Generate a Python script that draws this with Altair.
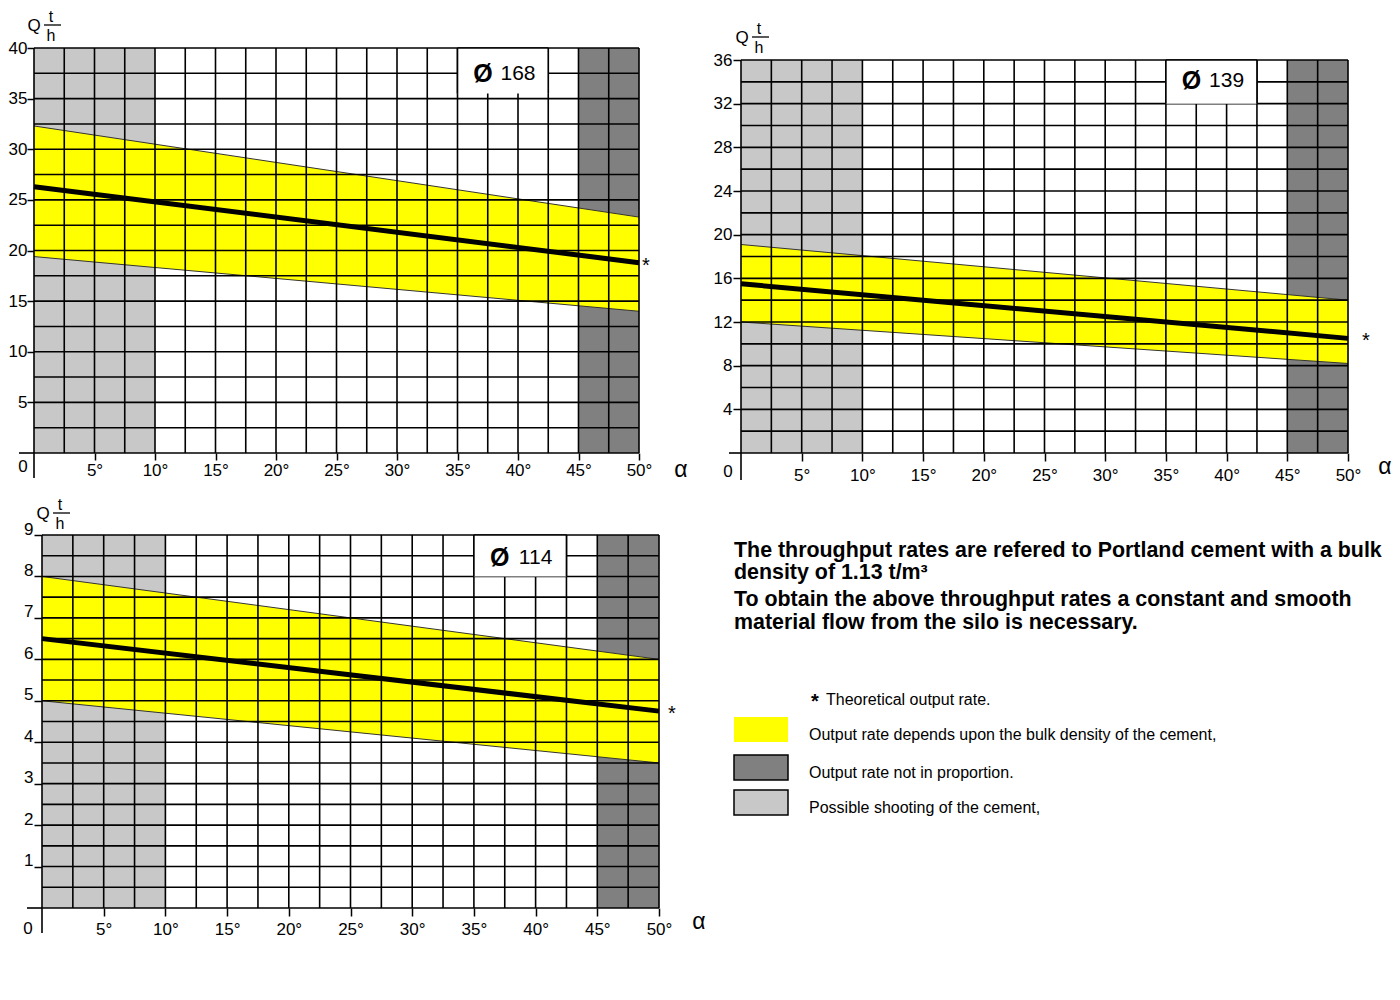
import altair as alt
import numpy as np
import pandas as pd

FONT = "Liberation Sans, Arial, sans-serif"

# ---------------- data ----------------
ALPHA = [0, 50]                      # inclination angle (deg) at the two ends
X_TICKS = [5, 10, 15, 20, 25, 30, 35, 40, 45, 50]
ZONE_START = [0, 45]
ZONE_END = [10, 50]
ZONE_COLORS = ["#c8c8c8", "#808080"]

# Ø 168
P1_UPPER = [32.3, 23.3]
P1_LOWER = [19.4, 14.0]
P1_THEO = [26.3, 18.8]
# Ø 139
P2_UPPER = [19.1, 14.0]
P2_LOWER = [12.0, 8.2]
P2_THEO = [15.5, 10.5]
# Ø 114
P3_UPPER = [8.0, 6.0]
P3_LOWER = [5.0, 3.5]
P3_THEO = [6.5, 4.75]

NOTE_LINES = [
    "The throughput rates are refered to Portland cement with a bulk",
    "density of 1.13 t/m\u00b3",
    "To obtain the above throughput rates a constant and smooth",
    "material flow from the silo is necessary.",
]
LEGEND_LABELS = [
    "Theoretical output rate.",
    "Output rate depends upon the bulk density of the cement,",
    "Output rate not in proportion.",
    "Possible shooting of the cement,",
]
LEGEND_COLORS = ["#ffff00", "#808080", "#c8c8c8"]


def one(**kw):
    return pd.DataFrame({k: [v] for k, v in kw.items()})


def panel(name, upper, lower, theo, ymax, ystep, ytick, box_bottom, label_y,
          width, height, top_gap, left_gap, tick, star_dx, xpad, ypad,
          yoff, zero_d, alpha_d, ext_down, ext_left, q_off):
    ydom = ymax * height / (height - top_gap)
    xmin = -left_gap * 50.0 / (width - left_gap)
    xs = alt.Scale(domain=[xmin, 50], nice=False, zero=False)
    ys = alt.Scale(domain=[0, ydom], nice=False, zero=False)

    xaxis = alt.Axis(values=X_TICKS, labelExpr="datum.value + '\u00b0'",
                     domain=False, grid=False, tickSize=tick, tickWidth=1.5,
                     tickColor="black", labelFont=FONT, labelFontSize=17,
                     labelColor="black", labelPadding=xpad, labelAngle=0,
                     labelFlush=False, labelOverlap=False)
    yaxis = alt.Axis(values=[float(v) for v in np.arange(ytick, ymax + 0.001, ytick)],
                     domain=False, grid=False, tickSize=tick, tickWidth=1.5,
                     tickColor="black", labelFont=FONT, labelFontSize=17,
                     labelColor="black", labelPadding=ypad, labelBaseline="middle",
                     labelOffset=yoff, offset=-left_gap, labelFlush=False,
                     labelOverlap=False, format="d")

    def X(f):
        return alt.X(f, scale=xs, axis=xaxis, title=None)

    def Y(f):
        return alt.Y(f, scale=ys, axis=yaxis, title=None)

    zones = pd.DataFrame({"a0": ZONE_START, "a1": ZONE_END, "c": ZONE_COLORS,
                          "q0": [0, 0], "q1": [ymax, ymax]})
    zl = alt.Chart(zones).mark_rect().encode(
        x=X("a0:Q"), x2="a1:Q", y=Y("q0:Q"), y2="q1:Q",
        color=alt.Color("c:N", scale=None))

    band = pd.DataFrame({"a": ALPHA, "up": upper, "lo": lower, "th": theo})
    area = alt.Chart(band).mark_area(color="#ffff00", opacity=1).encode(
        x=X("a:Q"), y=Y("up:Q"), y2="lo:Q")
    edge_u = alt.Chart(band).mark_line(color="#333333", strokeWidth=1).encode(
        x=X("a:Q"), y=Y("up:Q"))
    edge_l = alt.Chart(band).mark_line(color="#333333", strokeWidth=1).encode(
        x=X("a:Q"), y=Y("lo:Q"))

    xg = np.arange(0, 50.001, 2.5)
    yg = np.arange(0, ymax + 0.001, ystep)
    vgrid = pd.DataFrame({"a": xg, "q0": 0.0, "q1": float(ymax)})
    hgrid = pd.DataFrame({"q": yg, "a0": 0.0, "a1": 50.0})
    vl = alt.Chart(vgrid).mark_rule(color="black", strokeWidth=1.6).encode(
        x=X("a:Q"), y=Y("q0:Q"), y2="q1:Q")
    hl = alt.Chart(hgrid).mark_rule(color="black", strokeWidth=1.6).encode(
        y=Y("q:Q"), x=X("a0:Q"), x2="a1:Q")

    theo_l = alt.Chart(band).mark_line(color="black", strokeWidth=5).encode(
        x=X("a:Q"), y=Y("th:Q"))

    box = one(a0=35.0, a1=42.5, q0=float(box_bottom), q1=float(ymax))
    boxr = alt.Chart(box).mark_rect(color="white").encode(
        x=X("a0:Q"), x2="a1:Q", y=Y("q0:Q"), y2="q1:Q")
    bedges = pd.DataFrame({"a": [35.0, 42.5], "q0": float(box_bottom), "q1": float(ymax)})
    be = alt.Chart(bedges).mark_rule(color="black", strokeWidth=1.6).encode(
        x=X("a:Q"), y=Y("q0:Q"), y2="q1:Q")
    btop = alt.Chart(one(q=float(ymax), a0=35.0, a1=42.5)).mark_rule(
        color="black", strokeWidth=1.6).encode(y=Y("q:Q"), x=X("a0:Q"), x2="a1:Q")

    lab = pd.DataFrame({"a": [37.1, 40.0], "q": [label_y, label_y],
                        "t": ["\u00d8", name]})
    l1 = alt.Chart(lab.iloc[[0]]).mark_text(font=FONT, fontSize=25,
                                             fontWeight="bold", color="black").encode(
        x=X("a:Q"), y=Y("q:Q"), text="t:N")
    l2 = alt.Chart(lab.iloc[[1]]).mark_text(font=FONT, fontSize=21,
                                             color="black").encode(
        x=X("a:Q"), y=Y("q:Q"), text="t:N")

    star = alt.Chart(band.tail(1)).mark_text(text="*", fontSize=20, dx=star_dx,
                                             dy=3, font=FONT, color="black").encode(
        x=X("a:Q"), y=Y("th:Q"))

    origin = one(a=0.0, q=0.0, e=50.0)
    zero = alt.Chart(origin).mark_text(text="0", font=FONT, fontSize=17,
                                       dx=zero_d[0], dy=zero_d[1], color="black").encode(
        x=X("a:Q"), y=Y("q:Q"))
    alpha = alt.Chart(origin).mark_text(text="\u03b1", font=FONT,
                                        fontSize=23, dx=alpha_d[0], dy=alpha_d[1],
                                        color="black").encode(
        x=X("e:Q"), y=Y("q:Q"))
    ext_v = alt.Chart(origin).mark_rule(color="black", strokeWidth=1.6).encode(
        x=X("a:Q"), y=Y("q:Q"), y2=alt.value(height + ext_down))
    ext_h = alt.Chart(origin).mark_rule(color="black", strokeWidth=1.6).encode(
        x=X("a:Q"), x2=alt.value(left_gap - ext_left), y=Y("q:Q"))

    px0 = left_gap
    top = top_gap
    qx, qy = q_off
    q_t = alt.Chart(one(t="Q")).mark_text(font=FONT, fontSize=17, color="black").encode(
        x=alt.value(px0 + qx), y=alt.value(top + qy), text="t:N")
    t_t = alt.Chart(one(t="t")).mark_text(font=FONT, fontSize=16, color="black").encode(
        x=alt.value(px0 + qx + 17), y=alt.value(top + qy - 9), text="t:N")
    h_t = alt.Chart(one(t="h")).mark_text(font=FONT, fontSize=16, color="black").encode(
        x=alt.value(px0 + qx + 17), y=alt.value(top + qy + 10), text="t:N")
    bar = alt.Chart(one(t="-")).mark_rule(color="black", strokeWidth=1.3).encode(
        x=alt.value(px0 + qx + 10), x2=alt.value(px0 + qx + 27),
        y=alt.value(top + qy - 1))

    return alt.layer(zl, area, edge_u, edge_l, vl, hl, theo_l, boxr, be, btop,
                     l1, l2, star, zero, alpha, ext_v, ext_h, q_t, t_t, h_t, bar
                     ).properties(width=width, height=height)


c1 = panel("168", P1_UPPER, P1_LOWER, P1_THEO, 40, 2.5, 5, 35.5, 37.4,
           605, 405, 0, 0, 7, 7, 2, 0, 0, (-11, 14), (42, 17), 25, 15, (0, -22))
c2 = panel("139", P2_UPPER, P2_LOWER, P2_THEO, 36, 2, 4, 32, 34.1,
           607, 405, 12, 0, 8, 18, 6, 1, 0, (-13, 19), (37, 14), 27, 12, (1, -22))
c3 = panel("114", P3_UPPER, P3_LOWER, P3_THEO, 9, 0.5, 1, 8, 8.45,
           625, 373, 0, 8, 8, 13, 5, 1, -6, (-14, 21), (40, 14), 25, 15, (1, -21))


def txt(s, x, y, size, bold=False, align="left"):
    return alt.Chart(one(t=s)).mark_text(
        align=align, baseline="middle", fontSize=size,
        fontWeight="bold" if bold else "normal", font=FONT, color="black").encode(
        x=alt.value(x), y=alt.value(y), text="t:N")


def swatch(color, y0, y1, stroke):
    m = alt.Chart(one(c=color)).mark_rect(
        stroke="black" if stroke else color, strokeWidth=1.5 if stroke else 0)
    return m.encode(x=alt.value(-7), x2=alt.value(47), y=alt.value(y0),
                    y2=alt.value(y1), color=alt.Color("c:N", scale=None))


note_y = [16, 38, 65, 88]
layers = [txt(s, -7, y, 21.4, bold=True) for s, y in zip(NOTE_LINES, note_y)]
layers.append(txt("*", 74, 167, 20, bold=True, align="center"))
layers.append(txt(LEGEND_LABELS[0], 85, 165, 16))
sw_y = [(182, 207, False), (220, 245, True), (255, 280, True)]
lab_y = [200, 238, 273]
for col, (y0, y1, st), s, ly in zip(LEGEND_COLORS, sw_y, LEGEND_LABELS[1:], lab_y):
    layers.append(swatch(col, y0, y1, st))
    layers.append(txt(s, 68, ly, 16))
tp = alt.layer(*layers).properties(width=560, height=300)

chart = alt.concat(c1, c2, c3, tp, columns=2, spacing={"row": 82, "column": 82},
                   bounds="flush", align="none").properties(
    padding={"left": 0, "top": 1, "right": 0, "bottom": 0}
).configure_view(strokeWidth=0)

chart.save("out.html", embed_options={"renderer": "svg", "actions": False})
